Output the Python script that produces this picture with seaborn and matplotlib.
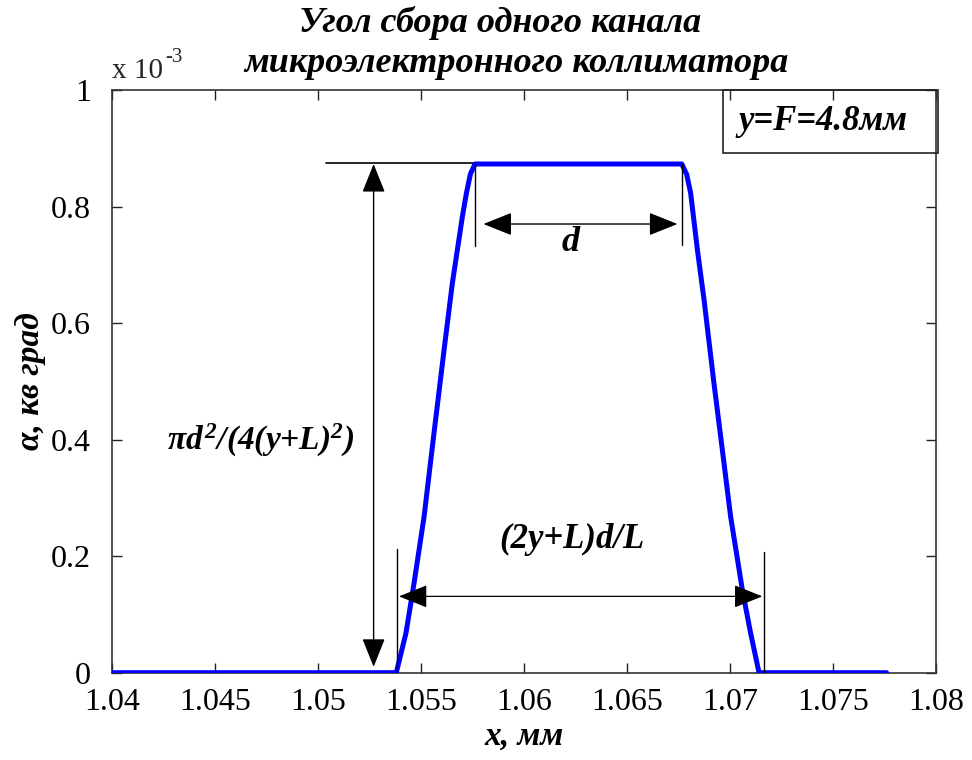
import matplotlib
matplotlib.use("Agg")
import matplotlib.pyplot as plt
import seaborn as sns
from matplotlib.patches import FancyArrowPatch, Rectangle
from matplotlib.ticker import FixedLocator, FixedFormatter

# ---- data (alpha in units of 1e-3 sq. deg) ----
x_mm = [1.0400, 1.0538, 1.05427, 1.05466, 1.05515, 1.05563, 1.05612, 1.05652,
        1.05701, 1.05720, 1.05740, 1.05762, 1.06766, 1.06790, 1.06809, 1.06842,
        1.06874, 1.06922, 1.06963, 1.07003, 1.0706, 1.0710, 1.07141, 1.0776]
alpha = [0.0, 0.0, 0.068, 0.153, 0.268, 0.411, 0.554, 0.668,
         0.783, 0.822, 0.856, 0.873, 0.873, 0.855, 0.823, 0.725,
         0.640, 0.497, 0.382, 0.268, 0.142, 0.068, 0.0, 0.0]

x_ticks = [1.04, 1.045, 1.05, 1.055, 1.06, 1.065, 1.07, 1.075, 1.08]
x_tick_labels = ["1.04", "1.045", "1.05", "1.055", "1.06", "1.065", "1.07", "1.075", "1.08"]
y_ticks = [0, 0.2, 0.4, 0.6, 0.8, 1.0]
y_tick_labels = ["0", "0.2", "0.4", "0.6", "0.8", "1"]

title_lines = ["Угол сбора одного канала", "микроэлектронного коллиматора"]
x_label = "x, мм"
y_label = "α, кв град"
box_text = "y=F=4.8мм"

sns.set_style("white")
plt.rcParams["font.family"] = ["Liberation Serif", "DejaVu Serif"]
plt.rcParams["mathtext.fontset"] = "custom"
plt.rcParams["mathtext.rm"] = "Liberation Serif:bold:italic"
plt.rcParams["mathtext.it"] = "Liberation Serif:bold:italic"
plt.rcParams["mathtext.bf"] = "Liberation Serif:bold:italic"

fig = plt.figure(figsize=(9.72, 7.6), dpi=100)
ax = fig.add_axes([112 / 972, (760 - 672.7) / 760, (936 - 112) / 972, (672.7 - 90) / 760])

sns.lineplot(x=x_mm, y=alpha, ax=ax, color="#0000ff", linewidth=3.6, sort=False,
             estimator=None, zorder=3)

ax.set_xlim(1.04, 1.08)
ax.set_ylim(0, 1.0)
ax.xaxis.set_major_locator(FixedLocator(x_ticks))
ax.xaxis.set_major_formatter(FixedFormatter(x_tick_labels))
ax.yaxis.set_major_locator(FixedLocator(y_ticks))
ax.yaxis.set_major_formatter(FixedFormatter(y_tick_labels))
ax.tick_params(direction="in", length=7, width=1, colors="#222222",
               bottom=True, left=True, top=True, right=True, labelsize=23)
ax.tick_params(axis="x", pad=11)
ax.tick_params(axis="y", pad=15)
for lbl in ax.get_xticklabels() + ax.get_yticklabels():
    lbl.set_color("black")
for s in ax.spines.values():
    s.set_color("#333333")
    s.set_linewidth(1.2)

bi = dict(fontweight="bold", fontstyle="italic", color="black")
ax.set_xlabel(x_label, fontsize=24, labelpad=3, **bi)
ax.set_ylabel(y_label, fontsize=24, labelpad=4, **bi)

fig.text(500 / 972, 1 - 23 / 760, title_lines[0], ha="center", va="center", fontsize=26, **bi)
fig.text(516 / 972, 1 - 64 / 760, title_lines[1], ha="center", va="center", fontsize=26, **bi)

# exponent label
fig.text(112 / 972, 1 - 71 / 760, "x 10", ha="left", va="center", fontsize=21)
fig.text(165 / 972, 1 - 58 / 760, "-3", ha="left", va="center", fontsize=15)

# ---- annotations ----
def arrow(p0, p1, style, color="black", lw=1.0):
    a = FancyArrowPatch(p0, p1, arrowstyle=style, mutation_scale=20, shrinkA=0, shrinkB=0,
                        color=color, lw=lw, zorder=4)
    ax.add_patch(a)

hs = "<|-|>,head_length=0.9,head_width=0.36"
# vertical height arrow
arrow((1.0527, 0.010), (1.0527, 0.873), hs)
ax.plot([1.0504, 1.0603], [0.874, 0.874], color="black", lw=1.2, zorder=2)
# plateau markers and d arrow
ax.plot([1.05762, 1.05762], [0.873, 0.732], color="black", lw=1.0, zorder=4)
ax.plot([1.06766, 1.06766], [0.873, 0.734], color="black", lw=1.0, zorder=4)
arrow((1.05803, 0.770), (1.06745, 0.770), hs)
ax.text(1.06226, 0.739, "d", ha="center", va="center", fontsize=26, **bi)
# base markers and arrow
ax.plot([1.05385, 1.05385], [0.212, 0.0], color="black", lw=1.0, zorder=4)
ax.plot([1.07165, 1.07165], [0.207, 0.0], color="black", lw=1.0, zorder=4)
arrow((1.05393, 0.131), (1.07157, 0.131), hs, color="black", lw=0.9)
ax.text(1.06231, 0.229, "(2y+L)d/L", ha="center", va="center", fontsize=25, **bi)
ax.text(1.04722, 0.399, r"$πd^2/(4(y{+}L)^2)$", ha="center", va="center", fontsize=24,
        color="black")

# legend-like box
ax.add_patch(Rectangle((722.7 / 972, 1 - 152.7 / 760), (937.7 - 722.7) / 972, (152.7 - 90) / 760,
                       transform=fig.transFigure, fill=False, edgecolor="#222222", lw=1.2,
                       zorder=5, clip_on=False))
fig.text(823 / 972, 1 - 122 / 760, box_text, ha="center", va="center", fontsize=25, **bi)

fig.savefig("out.png", dpi=100)
